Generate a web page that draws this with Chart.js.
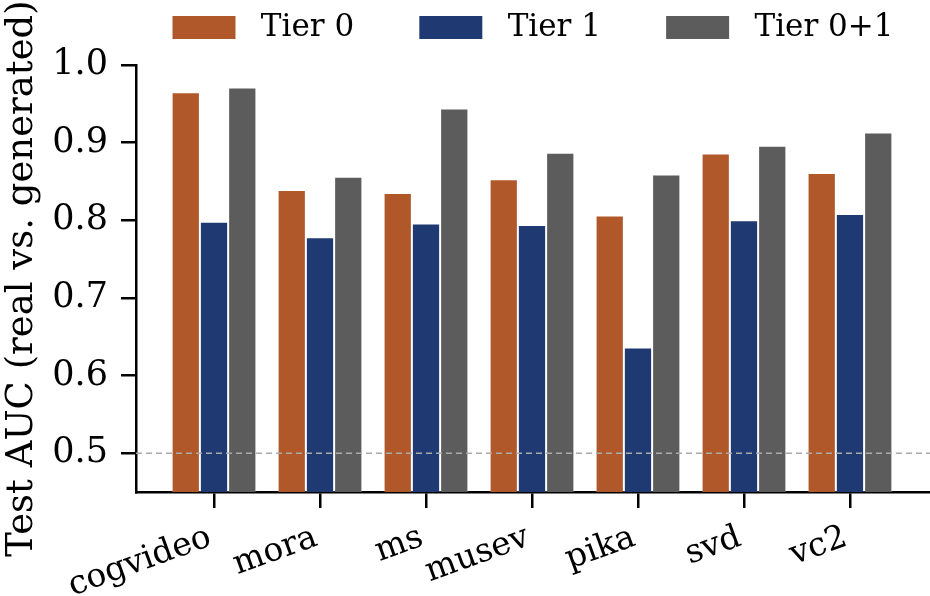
<!DOCTYPE html>
<html>
<head>
<meta charset="utf-8">
<script src="https://cdn.jsdelivr.net/npm/chart.js@4"></script>
<style>
  html, body { margin: 0; padding: 0; background: #fff; }
  #wrap { width: 930px; height: 596px; }
</style>
</head>
<body>
<div id="wrap"><canvas id="auc"></canvas></div>
<script>
// données
const categories = ['cogvideo', 'mora', 'ms', 'musev', 'pika', 'svd', 'vc2'];
const tier0 = [0.965, 0.839, 0.835, 0.853, 0.806, 0.886, 0.861];
const tier1 = [0.798, 0.778, 0.796, 0.794, 0.636, 0.800, 0.808];
const tier01 = [0.971, 0.856, 0.944, 0.887, 0.859, 0.896, 0.913];
const yTicks = [0.5, 0.6, 0.7, 0.8, 0.9, 1.0];
const chanceLevel = 0.5;

const FONT = 'DejaVu Serif';
const toPoints = arr => arr.map((v, i) => ({ x: i, y: v }));

// ligne pointillée du hasard (0.5) + marge sous la légende
const chanceLine = {
  id: 'chanceLine',
  beforeLayout(chart) {
    const lg = chart.legend;
    if (lg && !lg._extra) {
      const fit = lg.fit.bind(lg);
      lg.fit = function () { fit(); this.height += 12; };
      lg._extra = true;
    }
  },
  afterDatasetsDraw(chart) {
    const { ctx, chartArea, scales } = chart;
    const y = scales.y.getPixelForValue(chanceLevel);
    ctx.save();
    ctx.strokeStyle = '#aaaaaa';
    ctx.lineWidth = 1.5;
    ctx.setLineDash([6, 4]);
    ctx.beginPath();
    ctx.moveTo(chartArea.left, y);
    ctx.lineTo(chartArea.right, y);
    ctx.stroke();
    ctx.restore();
  }
};

const pad = ['      ', '      ', ''];

new Chart(document.getElementById('auc').getContext('2d'), {
  type: 'bar',
  data: {
    datasets: [
      { label: 'Tier 0', data: toPoints(tier0), backgroundColor: '#B0582A' },
      { label: 'Tier 1', data: toPoints(tier1), backgroundColor: '#1F3A72' },
      { label: 'Tier 0+1', data: toPoints(tier01), backgroundColor: '#5C5C5C' }
    ]
  },
  options: {
    responsive: true,
    maintainAspectRatio: false,
    animation: false,
    datasets: { bar: { categoryPercentage: 0.8, barPercentage: 1.0, borderWidth: 1, borderColor: 'rgba(255,255,255,0.3)' } },
    layout: { padding: { top: 6, left: 0, right: 0, bottom: 0 } },
    plugins: {
      tooltip: { enabled: false },
      legend: {
        position: 'top',
        fullSize: false,
        labels: {
          color: '#000',
          font: { family: FONT, size: 31 },
          boxWidth: 63,
          boxHeight: 23,
          padding: 6,
          generateLabels(chart) {
            return Chart.defaults.plugins.legend.labels.generateLabels(chart).map((it, i) => {
              it.text = ' ' + it.text + pad[i];
              it.lineWidth = 0;
              return it;
            });
          }
        }
      }
    },
    scales: {
      x: {
        type: 'linear',
        offset: false,
        min: -0.736,
        max: 6.755,
        afterBuildTicks(scale) { scale.ticks = categories.map((_, i) => ({ value: i })); },
        afterFit(scale) { scale.height = 104; },
        ticks: {
          autoSkip: false,
          maxRotation: 20,
          minRotation: 20,
          padding: 10,
          labelOffset: -4,
          color: '#000',
          font: { family: FONT, size: 33 },
          callback: v => categories[v] ?? ''
        },
        grid: { offset: false, drawOnChartArea: false, drawTicks: true, tickLength: 16, color: '#000', lineWidth: 2.5 },
        border: { display: true, color: '#000', width: 2.5 }
      },
      y: {
        min: 0.45,
        max: 1.0,
        afterBuildTicks(scale) { scale.ticks = yTicks.map(v => ({ value: v })); },
        afterFit(scale) { scale.width = 136; },
        ticks: {
          padding: 13,
          color: '#000',
          font: { family: FONT, size: 35 },
          callback: v => v.toFixed(1)
        },
        grid: { drawOnChartArea: false, drawTicks: true, tickLength: 15, color: '#000', lineWidth: 2.5 },
        border: { display: true, color: '#000', width: 2.5 },
        title: {
          display: true,
          text: 'Test AUC (real vs. generated)',
          color: '#000',
          font: { family: FONT, size: 37 },
          padding: { top: 0, bottom: 0 }
        }
      }
    }
  },
  plugins: [chanceLine]
});
</script>
</body>
</html>
